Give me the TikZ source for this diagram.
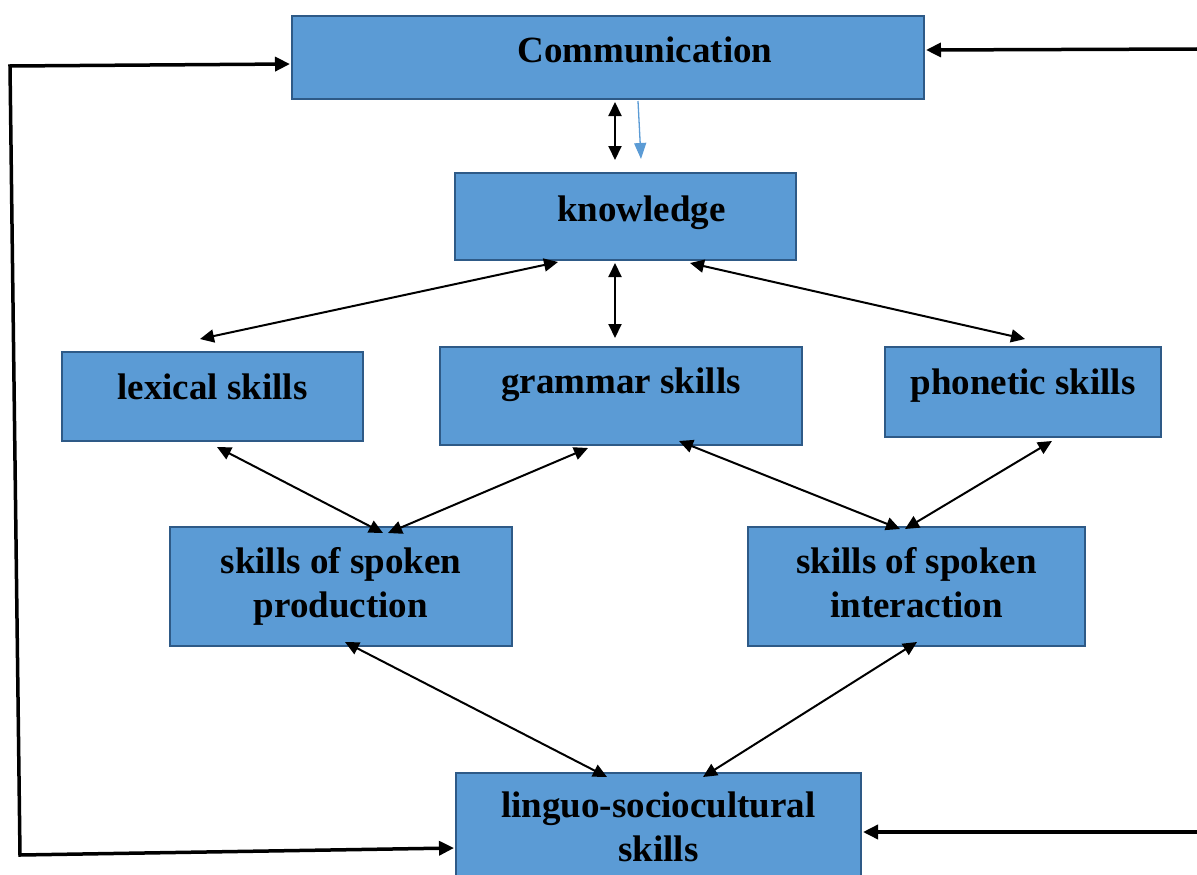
\documentclass[tikz,border=0pt]{standalone}
\usepackage{fontspec}
\setmainfont{Liberation Serif}
\usetikzlibrary{arrows.meta}
\definecolor{boxfill}{HTML}{5B9BD5}
\definecolor{boxline}{HTML}{2E5A87}
\begin{document}
\begin{tikzpicture}[x=1pt,y=-1pt,
  box/.style={draw=boxline,fill=boxfill,line width=2pt,inner sep=0pt,
    font=\fontsize{37}{44}\selectfont\bfseries,align=center},
  onebox/.style={box,anchor=base},
  dbl/.style={line width=2pt,{Triangle[length=14pt,width=13pt]}-{Triangle[length=14pt,width=13pt]}},
  fb/.style={line width=3.5pt,{Triangle[length=15pt,width=14pt]}-{Triangle[length=15pt,width=14pt]}},
  fbin/.style={line width=3.5pt,-{Triangle[length=15pt,width=14pt]}},
  thin/.style={boxfill,line width=1.3pt,-{Triangle[length=16pt,width=12pt]}}]
\useasboundingbox (0,0) rectangle (1197,875);

% boxes
\node[onebox,minimum width=632pt,text height=47pt,text depth=36pt] (comm) at (608,63) {\hspace*{74pt}Communication};
\node[onebox,minimum width=341pt,text height=48pt,text depth=39pt] (kn) at (625.5,221) {\hspace*{32pt}knowledge};
\node[onebox,minimum width=301pt,text height=47pt,text depth=42pt] (lex) at (212.5,399) {lexical skills};
\node[onebox,minimum width=362pt,text height=46pt,text depth=52pt] (gr) at (621,393) {grammar skills};
\node[onebox,minimum width=276pt,text height=47pt,text depth=43pt] (ph) at (1023,394) {phonetic skills};
\node[box,minimum width=342pt,minimum height=119pt] (pr) at (341,586.5) {skills of spoken\\production};
\node[box,minimum width=337pt,minimum height=119pt] (in) at (916.5,586.5) {skills of spoken\\interaction\vphantom{p}};
\node[box,minimum width=405pt,minimum height=107pt] (li) at (658.5,826.5) {linguo-sociocultural\\skills};

% free ends of the feedback lines
\coordinate (L1) at (10,66);
\coordinate (L2) at (20,855);
\coordinate (R1) at (1197,49);
\coordinate (R2) at (1197,832);

% connectors
\draw[dbl] ([xshift=7pt,yshift=-2pt]comm.south) -- ([xshift=-10.5pt,yshift=12pt]kn.north);
\draw[thin] ([xshift=30pt,yshift=-1pt]comm.south) -- ([xshift=15.5pt,yshift=13pt]kn.north);
\draw[dbl] ([xshift=-67.5pt,yshift=-1pt]kn.south) -- ([xshift=-12.5pt,yshift=12pt]lex.north);
\draw[dbl] ([xshift=-10.5pt,yshift=-2pt]kn.south) -- ([xshift=-6pt,yshift=8pt]gr.north);
\draw[dbl] ([xshift=64.5pt,yshift=-2pt]kn.south) -- ([xshift=2pt,yshift=7pt]ph.north);
\draw[dbl] ([xshift=4.5pt,yshift=-5pt]lex.south) -- ([xshift=42pt,yshift=-7pt]pr.north);
\draw[dbl] ([xshift=-33pt,yshift=-2pt]gr.south) -- ([xshift=47pt,yshift=-7pt]pr.north);
\draw[dbl] ([xshift=58pt,yshift=5pt]gr.south) -- ([xshift=-16.5pt,yshift=-3pt]in.north);
\draw[dbl] ([xshift=29pt,yshift=-3pt]ph.south) -- ([xshift=-11.5pt,yshift=-3pt]in.north);
\draw[dbl] ([xshift=4pt,yshift=5pt]pr.south) -- ([xshift=-51.5pt,yshift=-5pt]li.north);
\draw[dbl] ([xshift=0.5pt,yshift=5pt]in.south) -- ([xshift=44.5pt,yshift=-5pt]li.north);

% feedback lines
\draw[fb] ([xshift=-1pt,yshift=-6.5pt]comm.west) -- (L1) -- (L2) -- ([xshift=-1pt,yshift=-21.5pt]li.west);
\draw[fbin] (R1) -- ([xshift=1pt,yshift=7.5pt]comm.east);
\draw[fbin] (R2) -- ([xshift=1pt,yshift=-5.5pt]li.east);
\end{tikzpicture}
\end{document}
